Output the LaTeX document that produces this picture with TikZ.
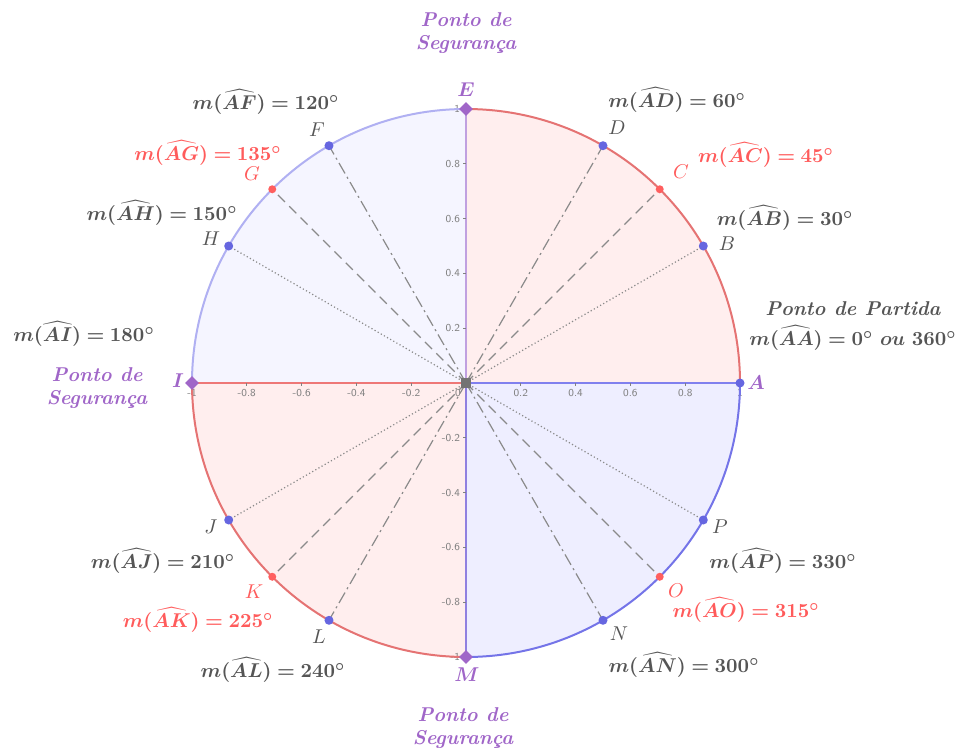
\documentclass[tikz,border=0pt]{standalone}
\usepackage{bm}
\usetikzlibrary{shapes.geometric}
\definecolor{txtgray}{HTML}{555555}
\definecolor{redtxt}{HTML}{FF5B5B}
\definecolor{purp}{HTML}{A066C8}
\definecolor{ptblue}{HTML}{6666E0}
\definecolor{ptred}{HTML}{FF5F5F}
\definecolor{pinkfill}{HTML}{FFEEEE}
\definecolor{bluefill}{HTML}{EEEEFF}
\definecolor{bluefillb}{HTML}{F5F5FF}
\definecolor{arcred}{HTML}{E57373}
\definecolor{arcblue}{HTML}{7474E8}
\definecolor{arcblueb}{HTML}{B0B0F2}
\definecolor{linegray}{HTML}{8A8A8A}
\definecolor{axred}{HTML}{EE7777}
\definecolor{axblue}{HTML}{8080EE}
\definecolor{axlav}{HTML}{C0A0E0}
\definecolor{axpurp}{HTML}{9080E0}
\newcommand{\meas}[2]{$\bm{m(\widehat{#1})=#2^\circ}$}
\begin{document}
\begin{tikzpicture}[x=0.5pt,y=0.5pt,
  lbl/.style={font=\fontsize{10}{12}\selectfont,inner sep=0.3pt},
  meastxt/.style={lbl,text=txtgray},
  measred/.style={lbl,text=redtxt},
  ptlbl/.style={lbl,text=txtgray},
  ptlblred/.style={lbl,text=redtxt},
  ptlblpurp/.style={lbl,text=purp},
  safetxt/.style={font=\fontsize{10}{11.5}\selectfont\bfseries\itshape,text=purp,align=center,inner sep=0.3pt},
  bpt/.style={circle,fill=ptblue,inner sep=0pt,minimum size=4.5pt},
  rpt/.style={circle,fill=ptred,inner sep=0pt,minimum size=4pt},
  dpt/.style={diamond,fill=purp,inner sep=0pt,minimum size=7pt},
  raddot/.style={linegray,line width=0.6pt,dash pattern=on 0.6pt off 1.2pt},
  raddash/.style={linegray,line width=0.6pt,dash pattern=on 5pt off 3pt},
  raddashdot/.style={linegray,line width=0.6pt,dash pattern=on 6pt off 2pt on 1pt off 2pt},
  ticklbl/.style={font=\sffamily\fontsize{5.3}{6}\selectfont,text=gray,inner sep=0.3pt},
  arcline/.style={line width=1pt},
  axline/.style={line width=1pt}
]
\useasboundingbox (-466,-367) rectangle (493,383);
% sectors
\fill[pinkfill] (0,0) -- (0:274) arc[start angle=0,end angle=90,radius=274] -- cycle;
\fill[bluefillb] (0,0) -- (90:274) arc[start angle=90,end angle=180,radius=274] -- cycle;
\fill[pinkfill] (0,0) -- (180:274) arc[start angle=180,end angle=270,radius=274] -- cycle;
\fill[bluefill] (0,0) -- (270:274) arc[start angle=270,end angle=360,radius=274] -- cycle;
% center node and point coordinates
\node[rectangle,fill=gray!90!black,inner sep=0pt,minimum size=5pt] (ctr) at (0,0) {};
\coordinate (pA) at (0:274);
\coordinate (pB) at (30:274);
\coordinate (pC) at (45:274);
\coordinate (pD) at (60:274);
\coordinate (pE) at (90:274);
\coordinate (pF) at (120:274);
\coordinate (pG) at (135:274);
\coordinate (pH) at (150:274);
\coordinate (pI) at (180:274);
\coordinate (pJ) at (210:274);
\coordinate (pK) at (225:274);
\coordinate (pL) at (240:274);
\coordinate (pM) at (270:274);
\coordinate (pN) at (300:274);
\coordinate (pO) at (315:274);
\coordinate (pP) at (330:274);
% axes
\draw[axline,axblue] (ctr.center) -- (pA);
\draw[axline,axred] (ctr.center) -- (pI);
\draw[axline,axlav] (ctr.center) -- (pE);
\draw[axline,axpurp] (ctr.center) -- (pM);
% ticks and tick labels
\foreach \v/\s [count=\i] in {-1/-1,-0.8/-0.8,-0.6/-0.6,-0.4/-0.4,-0.2/-0.2,0.2/0.2,0.4/0.4,0.6/0.6,0.8/0.8,1/1} {
  \draw[gray,line width=0.4pt] (274*\v,0) -- (274*\v,-3);
  \node[ticklbl] (tx\i) at (274*\v,-10) {\s};
  \draw[gray,line width=0.4pt] (0,274*\v) -- (-3,274*\v);
  \node[ticklbl,anchor=east] (ty\i) at (-5,274*\v) {\s};
}
\node[ticklbl] (t0) at (-8,-10) {0};
% radial lines
\draw[raddot] (ctr.center) -- (pB);
\draw[raddot] (ctr.center) -- (pH);
\draw[raddot] (ctr.center) -- (pJ);
\draw[raddot] (ctr.center) -- (pP);
\draw[raddash] (ctr.center) -- (pC);
\draw[raddash] (ctr.center) -- (pG);
\draw[raddash] (ctr.center) -- (pK);
\draw[raddash] (ctr.center) -- (pO);
\draw[raddashdot] (ctr.center) -- (pD);
\draw[raddashdot] (ctr.center) -- (pF);
\draw[raddashdot] (ctr.center) -- (pL);
\draw[raddashdot] (ctr.center) -- (pN);
% arcs
\draw[arcline,arcred] (pA) arc[start angle=0,end angle=90,radius=274];
\draw[arcline,arcblueb] (pE) arc[start angle=90,end angle=180,radius=274];
\draw[arcline,arcred] (pI) arc[start angle=180,end angle=270,radius=274];
\draw[arcline,arcblue] (pM) arc[start angle=270,end angle=360,radius=274];
\node[rectangle,fill=gray!90!black,inner sep=0pt,minimum size=5pt] (ctrtop) at (0,0) {};
% point markers
\node[bpt] (A) at (pA) {};
\node[bpt] (B) at (pB) {};
\node[rpt] (C) at (pC) {};
\node[bpt] (D) at (pD) {};
\node[dpt] (E) at (pE) {};
\node[bpt] (F) at (pF) {};
\node[rpt] (G) at (pG) {};
\node[bpt] (H) at (pH) {};
\node[dpt] (I) at (pI) {};
\node[bpt] (J) at (pJ) {};
\node[rpt] (K) at (pK) {};
\node[bpt] (L) at (pL) {};
\node[dpt] (M) at (pM) {};
\node[bpt] (N) at (pN) {};
\node[rpt] (O) at (pO) {};
\node[bpt] (P) at (pP) {};
% point labels
\node[ptlblpurp] (lA) at (290,0) {$\bm{A}$};
\node[ptlbl] (lB) at (261,139) {$B$};
\node[ptlblred] (lC) at (215,211) {$C$};
\node[ptlbl] (lD) at (151,255) {$D$};
\node[ptlblpurp] (lE) at (0,293) {$\bm{E}$};
\node[ptlbl] (lF) at (-149,253) {$F$};
\node[ptlblred] (lG) at (-214,209) {$G$};
\node[ptlbl] (lH) at (-255,144) {$H$};
\node[ptlblpurp] (lI) at (-288,2) {$\bm{I}$};
\node[ptlbl] (lJ) at (-255,-144) {$J$};
\node[ptlblred] (lK) at (-212,-209) {$K$};
\node[ptlbl] (lL) at (-147,-254) {$L$};
\node[ptlblpurp] (lM) at (1,-292) {$\bm{M}$};
\node[ptlbl] (lN) at (153,-251) {$N$};
\node[ptlblred] (lO) at (210,-208) {$O$};
\node[ptlbl] (lP) at (254,-144) {$P$};
% measure texts
\node[meastxt] (mB) at (319,165) {\meas{AB}{30}};
\node[measred] (mC) at (300,228) {\meas{AC}{45}};
\node[meastxt] (mD) at (211,283) {\meas{AD}{60}};
\node[meastxt] (mF) at (-200,281) {\meas{AF}{120}};
\node[measred] (mG) at (-258,230) {\meas{AG}{135}};
\node[meastxt] (mH) at (-304,170) {\meas{AH}{150}};
\node[meastxt] (mI) at (-382,49) {\meas{AI}{180}};
\node[meastxt] (mJ) at (-303,-178) {\meas{AJ}{210}};
\node[measred] (mK) at (-268,-237) {\meas{AK}{225}};
\node[meastxt] (mL) at (-193,-287) {\meas{AL}{240}};
\node[meastxt] (mN) at (218,-282) {\meas{AN}{300}};
\node[measred] (mO) at (280,-227) {\meas{AO}{315}};
\node[meastxt] (mP) at (317,-178) {\meas{AP}{330}};
\node[meastxt,font=\fontsize{10}{12}\selectfont\bfseries\itshape] (part) at (387,74) {Ponto de Partida};
\node[meastxt] (mA) at (387,45) {$\bm{m(\widehat{AA})=0^\circ\ ou\ 360^\circ}$};
% safety labels
\node[safetxt] (sE) at (0,350) {Ponto de\\Segurança};
\node[safetxt] (sI) at (-369,-5) {Ponto de\\Segurança};
\node[safetxt] (sM) at (-3,-345) {Ponto de\\Segurança};
\end{tikzpicture}
\end{document}
